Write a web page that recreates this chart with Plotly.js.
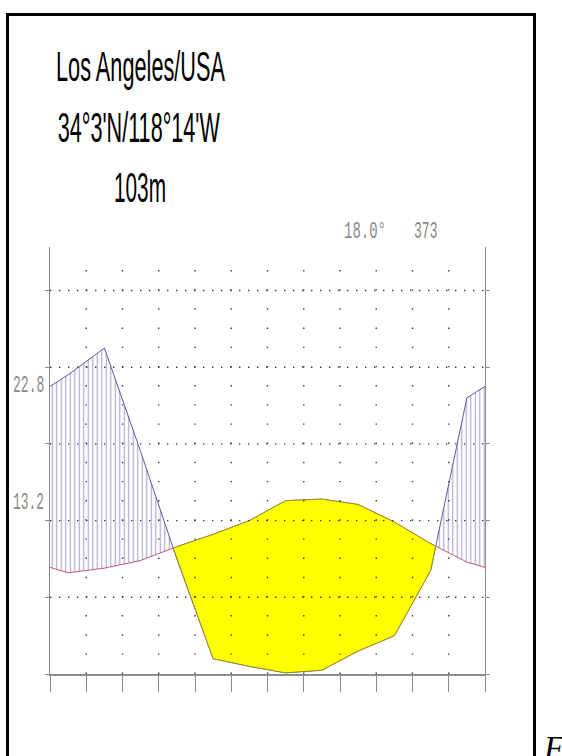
<!DOCTYPE html>
<html>
<head>
<meta charset="utf-8">
<script src="https://cdn.plot.ly/plotly-3.0.1.min.js"></script>
<style>
  html, body { margin: 0; padding: 0; background: #fff; }
  #chart { width: 562px; height: 756px; }
</style>
</head>
<body>
<div id="chart"></div>
<script>
// Walter–Lieth climate diagram: Los Angeles
const months = ['Jan', 'Feb', 'Mar', 'Apr', 'May', 'Jun', 'Jul', 'Aug', 'Sep', 'Oct', 'Nov', 'Dec'];
const tempC = [13.2, 13.8, 14.8, 16.6, 18.2, 20.0, 22.6, 22.8, 22.1, 19.8, 17.0, 14.6];
const precipMm = [78, 85, 58, 30, 4, 2, 0.3, 1, 6, 10, 27, 72];
const stationName = 'Los Angeles/USA';
const stationCoords = "34°3'N/118°14'W";
const stationElev = '103m';
const tempTicks = [0, 10, 20, 30, 40, 50];
const monthEdges = [0, 1, 2, 3, 4, 5, 6, 7, 8, 9, 10, 11, 12];

// --- page geometry ---
const W = 562, H = 756;
const M = { l: 50, r: 77, t: 247, b: 82 };
const plotW = W - M.l - M.r, plotH = H - M.t - M.b;
const yMax = 55.67;                 // top of the temperature scale (°C)
const mmPerDeg = 2;                 // 10 °C ~ 20 mm
const px = v => (v - M.l) / plotW;  // pixel -> paper
const py = v => (H - M.b - v) / plotH;

// --- curves: month centres plus the two year-edge points ---
const n = months.length;
const edgeT = (tempC[n - 1] + tempC[0]) / 2;
const edgeP = (precipMm[n - 1] + precipMm[0]) / 2;
const pts = [{ x: 0, t: edgeT, p: edgeP / mmPerDeg }];
months.forEach((_, i) => pts.push({ x: i + 0.5, t: tempC[i], p: precipMm[i] / mmPerDeg }));
pts.push({ x: n, t: edgeT, p: edgeP / mmPerDeg });

// insert the points where the two curves cross
const merged = [pts[0]];
for (let k = 1; k < pts.length; k++) {
  const a = pts[k - 1], b = pts[k];
  const d0 = a.t - a.p, d1 = b.t - b.p;
  if (d0 * d1 < 0) {
    const f = d0 / (d0 - d1);
    const xc = a.x + (b.x - a.x) * f;
    const tc = a.t + (b.t - a.t) * f;
    merged.push({ x: xc, t: tc, p: tc });
  }
  merged.push(b);
}

// runs where temperature is above (sign 1) or below (sign -1) precipitation
function runs(sign) {
  const out = []; let cur = [];
  merged.forEach(q => {
    if ((q.t - q.p) * sign >= -1e-9) cur.push(q);
    else { if (cur.length > 1) out.push(cur); cur = []; }
  });
  if (cur.length > 1) out.push(cur);
  return out;
}
const polygon = run => ({
  x: run.map(q => q.x).concat(run.slice().reverse().map(q => q.x)),
  y: run.map(q => q.t).concat(run.slice().reverse().map(q => q.p))
});

const traces = [];
// humid season: vertical blue hatching
runs(-1).forEach(run => {
  const pg = polygon(run);
  traces.push({
    type: 'scatter', mode: 'lines', x: pg.x, y: pg.y,
    fill: 'toself', fillcolor: 'rgba(0,0,0,0)',
    fillpattern: { shape: '|', size: 4.5, solidity: 0.28, fgcolor: '#5e5eaa', bgcolor: 'rgba(0,0,0,0)', fillmode: 'overlay' },
    line: { width: 0 }, hoverinfo: 'skip', showlegend: false
  });
});
// temperature and precipitation lines
traces.push({
  type: 'scatter', mode: 'lines', x: pts.map(q => q.x), y: pts.map(q => q.t),
  line: { color: '#c8557c', width: 1 }, hoverinfo: 'skip', showlegend: false
});
traces.push({
  type: 'scatter', mode: 'lines', x: pts.map(q => q.x), y: pts.map(q => q.p),
  line: { color: '#5a5aa6', width: 1 }, hoverinfo: 'skip', showlegend: false
});
// arid season: yellow area
runs(1).forEach(run => {
  const pg = polygon(run);
  traces.push({
    type: 'scatter', mode: 'lines', x: pg.x, y: pg.y,
    fill: 'toself', fillcolor: '#ffff00',
    line: { color: '#9c8c22', width: 1 }, hoverinfo: 'skip', showlegend: false
  });
});

// --- dotted guides drawn over the fills ---
const shapes = [];
tempTicks.filter(v => v > 0).forEach(v => shapes.push({
  type: 'line', xref: 'x', yref: 'y', x0: 0, x1: n, y0: v, y1: v, layer: 'above',
  line: { color: '#3a3a3a', width: 1.4, dash: '1.4px,7.6px' }
}));
monthEdges.slice(1, -1).forEach(m => shapes.push({
  type: 'line', xref: 'x', yref: 'y', x0: m, x1: m, y0: 0, y1: 55, layer: 'above',
  line: { color: '#3a3a3a', width: 1.4, dash: '1.4px,17.77px' }
}));
// frame round the figure
shapes.push({
  type: 'rect', xref: 'paper', yref: 'paper', layer: 'above',
  x0: px(7.5), x1: px(534.5), y0: py(14.5), y1: py(800),
  line: { color: '#000', width: 3 }, fillcolor: 'rgba(0,0,0,0)'
});

// --- labels, values computed from the series ---
const sum = a => a.reduce((s, v) => s + v, 0);
const meanLabel = (sum(tempC) / n).toFixed(1) + '°';
const totalLabel = String(Math.round(sum(precipMm)));
const maxLabel = Math.max(...tempC).toFixed(1);
const minLabel = Math.min(...tempC).toFixed(1);

const sansFont = { family: '"Liberation Sans Narrow", "Liberation Sans", Arial, sans-serif', size: 42, color: '#000' };
const monoFont = { family: '"Liberation Mono", "DejaVu Sans Mono", monospace', size: 23, color: '#8a8a8a' };
// [text, centre x px, baseline y px, font, squeezed width px]
const labelSpecs = [
  [stationName, 140.5, 81, sansFont, 169],
  [stationCoords, 139, 141.7, sansFont, 162],
  [stationElev, 140, 202, sansFont, 52],
  [meanLabel, 365, 238, monoFont, 42],
  [totalLabel, 425.7, 238, monoFont, 23.5],
  [maxLabel, 28.3, 391.7, monoFont, 31.3],
  [minLabel, 28.5, 509, monoFont, 31]
];
const midOffset = f => (f === sansFont ? 0.3465 : 0.2665) * f.size;
const annotations = labelSpecs.map(([text, cx, base, font, w]) => ({
  xref: 'paper', yref: 'paper', x: px(cx), y: py(base - midOffset(font)),
  xanchor: 'center', yanchor: 'middle', text, font, showarrow: false,
  width: w + 2, align: 'center'
}));
annotations.push({
  xref: 'paper', yref: 'paper', x: px(541), y: py(758 - 0.3 * 33),
  xanchor: 'left', yanchor: 'middle', text: 'F', showarrow: false,
  font: { family: '"Liberation Serif", "DejaVu Serif", serif', size: 33, style: 'italic', color: '#000' }
});
const squeezeWidths = labelSpecs.map(s => s[4]);

const layout = {
  width: W, height: H, margin: M,
  paper_bgcolor: '#fff', plot_bgcolor: '#fff', showlegend: false,
  xaxis: {
    range: [0, n], tickvals: monthEdges, showticklabels: false,
    ticks: 'outside', ticklen: 16, tickwidth: 1, tickcolor: '#8c8c8c',
    showline: true, linecolor: '#8c8c8c', linewidth: 1.5,
    showgrid: false, zeroline: false, fixedrange: true
  },
  yaxis: {
    range: [0, yMax], tickvals: tempTicks, showticklabels: false,
    ticks: 'outside', ticklen: 4, tickwidth: 1, tickcolor: '#8c8c8c',
    showline: true, linecolor: '#8c8c8c', linewidth: 1, mirror: 'ticks',
    showgrid: false, zeroline: false, fixedrange: true
  },
  shapes, annotations
};

const gd = document.getElementById('chart');
function squeeze() {
  gd.querySelectorAll('.annotation').forEach(g => {
    const w = squeezeWidths[+g.getAttribute('data-index')];
    const t = g.querySelector('text.annotation-text');
    if (w && t) {
      t.setAttribute('textLength', w);
      t.setAttribute('lengthAdjust', 'spacingAndGlyphs');
    }
  });
}
Plotly.newPlot(gd, traces, layout, { staticPlot: true, displayModeBar: false }).then(() => {
  squeeze();
  gd.on('plotly_afterplot', squeeze);
});
</script>
</body>
</html>
